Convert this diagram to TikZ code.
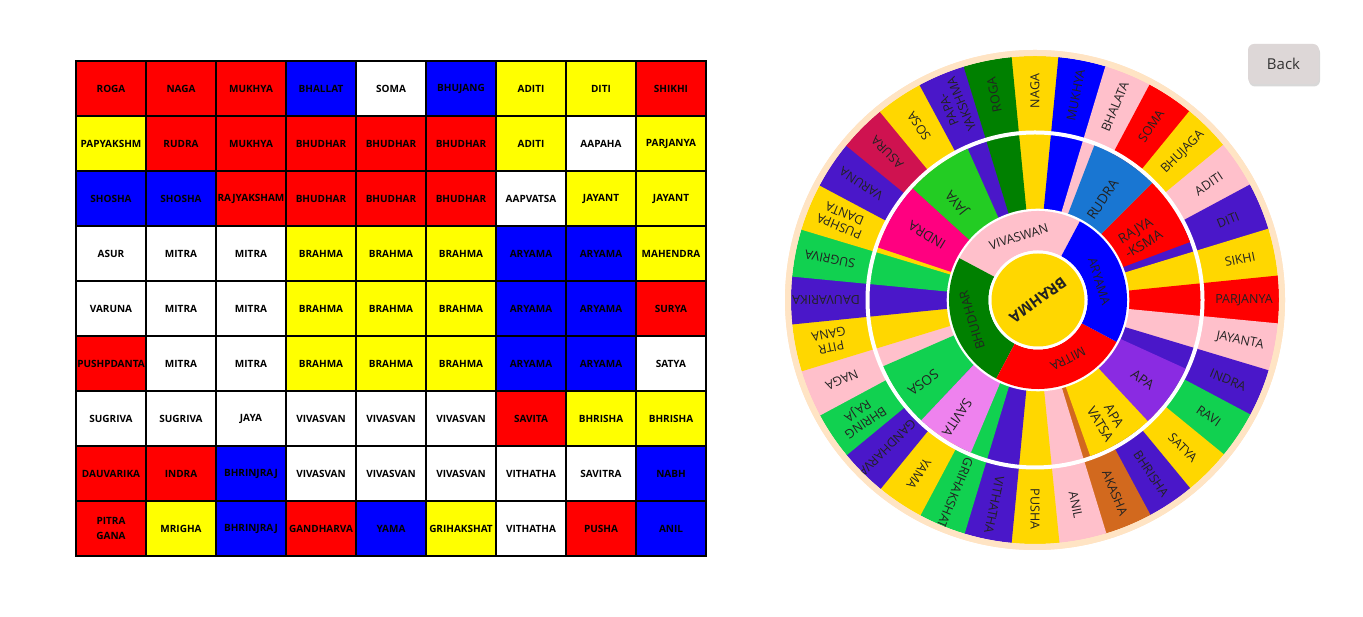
\documentclass[tikz,border=0pt]{standalone}
\usepackage{fontspec}
\setmainfont{Open Sans}
\usetikzlibrary{shadows}
\definecolor{gyellow}{RGB}{255,255,0}
\definecolor{gred}{RGB}{255,0,0}
\definecolor{gblue}{RGB}{0,0,255}
\definecolor{wgold}{RGB}{255,215,0}
\definecolor{wblue}{RGB}{0,0,255}
\definecolor{wpink}{RGB}{255,192,203}
\definecolor{wred}{RGB}{255,0,0}
\definecolor{wpurple}{RGB}{74,23,201}
\definecolor{wgreen}{RGB}{17,209,80}
\definecolor{wdkgreen}{RGB}{0,128,0}
\definecolor{wcrimson}{RGB}{207,18,80}
\definecolor{wbrown}{RGB}{210,105,30}
\definecolor{wrudra}{RGB}{25,118,210}
\definecolor{windra}{RGB}{255,0,128}
\definecolor{wjaya}{RGB}{35,204,35}
\definecolor{wapa}{RGB}{138,43,226}
\definecolor{wsavita}{RGB}{238,130,238}
\definecolor{wpeach}{RGB}{255,228,196}
\definecolor{wtxt}{RGB}{34,34,34}
\definecolor{btnfill}{RGB}{221,215,215}
\definecolor{btntxt}{RGB}{51,51,51}
\tikzset{
 gridcell/.style={draw=black, line width=1.6pt, minimum width=70pt, minimum height=55pt, inner sep=0pt, font=\fontsize{10}{15}\selectfont\bfseries, align=center, text=black},
 outerlab/.style={font=\fontsize{12.5}{14}\selectfont, text=wtxt, inner sep=0pt, align=center},
 midlab/.style={font=\fontsize{13.5}{16}\selectfont, text=wtxt, inner sep=0pt, align=center},
 innerlab/.style={font=\fontsize{12.5}{14}\selectfont, text=wtxt, inner sep=0pt},
 brahmalab/.style={font=\fontsize{15}{17}\selectfont\bfseries, text=wtxt, inner sep=0pt},
 backbtn/.style={fill=btnfill, rounded corners=6pt, minimum width=71pt, minimum height=40pt, inner sep=0pt, drop shadow={shadow xshift=1pt, shadow yshift=-2.5pt, opacity=0.3}, font=\fontsize{15}{18}\selectfont, text=btntxt},
}
\begin{document}
\begin{tikzpicture}[x=1pt,y=1pt]
\useasboundingbox (0,0) rectangle (1363,617);
\fill[white] (0,0) rectangle (1363,617);
% ---------------- grid ----------------
\foreach[count=\cc] \col/\tx in {gred/ROGA,gred/NAGA,gred/MUKHYA,gblue/BHALLAT,white/SOMA,gblue/BHUJANG,gyellow/ADITI,gyellow/DITI,gred/SHIKHI}
 {\node[gridcell,fill=\col] (ga\cc) at ({41+70*\cc},528.5) {\tx};}
\foreach[count=\cc] \col/\tx in {gyellow/PAPYAKSHM,gred/RUDRA,gred/MUKHYA,gred/BHUDHAR,gred/BHUDHAR,gred/BHUDHAR,gyellow/ADITI,white/AAPAHA,gyellow/PARJANYA}
 {\node[gridcell,fill=\col] (gb\cc) at ({41+70*\cc},473.5) {\tx};}
\foreach[count=\cc] \col/\tx in {gblue/SHOSHA,gblue/SHOSHA,gred/RAJYAKSHAM,gred/BHUDHAR,gred/BHUDHAR,gred/BHUDHAR,white/AAPVATSA,gyellow/JAYANT,gyellow/JAYANT}
 {\node[gridcell,fill=\col] (gc\cc) at ({41+70*\cc},418.5) {\tx};}
\foreach[count=\cc] \col/\tx in {white/ASUR,white/MITRA,white/MITRA,gyellow/BRAHMA,gyellow/BRAHMA,gyellow/BRAHMA,gblue/ARYAMA,gblue/ARYAMA,gyellow/MAHENDRA}
 {\node[gridcell,fill=\col] (gd\cc) at ({41+70*\cc},363.5) {\tx};}
\foreach[count=\cc] \col/\tx in {white/VARUNA,white/MITRA,white/MITRA,gyellow/BRAHMA,gyellow/BRAHMA,gyellow/BRAHMA,gblue/ARYAMA,gblue/ARYAMA,gred/SURYA}
 {\node[gridcell,fill=\col] (ge\cc) at ({41+70*\cc},308.5) {\tx};}
\foreach[count=\cc] \col/\tx in {gred/PUSHPDANTA,white/MITRA,white/MITRA,gyellow/BRAHMA,gyellow/BRAHMA,gyellow/BRAHMA,gblue/ARYAMA,gblue/ARYAMA,white/SATYA}
 {\node[gridcell,fill=\col] (gf\cc) at ({41+70*\cc},253.5) {\tx};}
\foreach[count=\cc] \col/\tx in {white/SUGRIVA,white/SUGRIVA,white/JAYA,white/VIVASVAN,white/VIVASVAN,white/VIVASVAN,gred/SAVITA,gyellow/BHRISHA,gyellow/BHRISHA}
 {\node[gridcell,fill=\col] (gg\cc) at ({41+70*\cc},198.5) {\tx};}
\foreach[count=\cc] \col/\tx in {gred/DAUVARIKA,gred/INDRA,gblue/BHRINJRAJ,white/VIVASVAN,white/VIVASVAN,white/VIVASVAN,white/VITHATHA,white/SAVITRA,gblue/NABH}
 {\node[gridcell,fill=\col] (gh\cc) at ({41+70*\cc},143.5) {\tx};}
\foreach[count=\cc] \col/\tx in {gred/{PITRA\\GANA},gyellow/MRIGHA,gblue/BHRINJRAJ,gred/GANDHARVA,gblue/YAMA,gyellow/GRIHAKSHAT,white/VITHATHA,gred/PUSHA,gblue/ANIL}
 {\node[gridcell,fill=\col] (gi\cc) at ({41+70*\cc},88.5) {\tx};}
% ---------------- wheel ----------------
\begin{scope}[shift={(1035,317)}]
 \fill[wpeach] (0,0) circle[radius=250pt];
 \foreach \kk/\col in {0/wgold,1/wblue,2/wpink,3/wred,4/wgold,5/wpink,6/wpurple,7/wgold,8/wred,9/wpink,10/wpurple,11/wgreen,12/wgold,13/wpurple,14/wbrown,15/wpink,16/wgold,17/wpurple,18/wgreen,19/wgold,20/wpurple,21/wgreen,22/wpink,23/wgold,24/wpurple,25/wgreen,26/wgold,27/wpurple,28/wcrimson,29/wgold,30/wpurple,31/wdkgreen}
 {
  \pgfmathsetmacro\angA{90-11.25*\kk-5.75}
  \pgfmathsetmacro\angB{90-11.25*\kk+5.75}
  \fill[\col] (\angA:85pt) arc[start angle=\angA,end angle=\angB,radius=85pt] -- (\angB:244pt) arc[start angle=\angB,end angle=\angA,radius=244pt] -- cycle;
 }
 \draw[white, line width=4pt] (0,0) circle[radius=167.5pt];
 % inner devas (middle ring)
 \foreach \angA/\angB/\col in {114/137.7/wjaya,137.7/161.5/windra,203.6/226.6/wgreen,226.6/247.2/wsavita,289.5/313/wgold,313/335.5/wapa,20.5/45/wred,45/69/wrudra}
 {
  \fill[\col] (\angA:85pt) arc[start angle=\angA,end angle=\angB,radius=85pt] -- (\angB:165.5pt) arc[start angle=\angB,end angle=\angA,radius=165.5pt] -- cycle;
 }
 % outer labels
 \foreach \kk/\tx in {0/NAGA,1/MUKHYA,2/BHALATA,3/SOMA,4/BHUJAGA,5/ADITI,6/DITI,7/SIKHI,8/PARJANYA,9/JAYANTA,10/INDRA,11/RAVI,12/SATYA,13/BHRISHA,14/AKASHA,15/ANIL,16/PUSHA,17/VITHATHA,18/GRIHAKSHAT,19/YAMA,20/GANDHARVA,21/{BHRING\\RAJA},22/NAGA,23/{PITR\\GANA},24/DAUVARIKA,25/SUGRIVA,26/{PUSHPA\\DANTA},27/VARUNA,28/ASURA,29/SOSA,30/{PAPA-\\YAKSHMA},31/ROGA}
 {
  \pgfmathsetmacro\angM{90-11.25*\kk}
  \node[outerlab, rotate=\angM] (o\kk) at (\angM:209pt) {\tx};
 }
 \draw[wpeach, line width=6pt] (0,0) circle[radius=247pt];
 % middle labels
 \foreach \nm/\angM/\rr/\tx in {m1/56/121/RUDRA,m2/31/122/{RAJYA\\-KSMA},m3/-36.5/134/APA,m4/-59/140/{APA\\VATSA},m5/-123.5/141/SAVITA,m6/-143.5/139/SOSA,m7/149/126/INDRA,m8/128.5/125/JAYA}
 {
  \node[midlab, rotate=\angM] (\nm) at (\angM:\rr pt) {\tx};
 }
\end{scope}
\begin{scope}[shift={(1038,317)}]
 \fill[white] (0,0) circle[radius=91.3pt];
 \foreach \angA/\angB/\col in {62/152/wpink,152/242/wdkgreen,242/332/wred,332/422/wblue}
 {
  \fill[\col] (\angA:49.5pt) arc[start angle=\angA,end angle=\angB,radius=49.5pt] -- (\angB:89pt) arc[start angle=\angB,end angle=\angA,radius=89pt] -- cycle;
 }
 \fill[white] (0,0) circle[radius=49.5pt];
 \fill[wgold] (0,0) circle[radius=46.5pt];
 \foreach \nm/\angM/\rr/\tx in {i1/107/66/VIVASWAN,i2/17/64/ARYAMA,i3/-63/66/MITRA,i4/197/69/BHUDHAR}
 {
  \pgfmathsetmacro\rot{\angM-90}
  \node[innerlab, rotate=\rot] (\nm) at (\angM:\rr pt) {\tx};
 }
 \node[brahmalab, rotate=-144] (brahma) at (0,0) {BRAHMA};
\end{scope}
% ---------------- back button ----------------
\node[backbtn] (back) at (1283.5,553) {Back};
\end{tikzpicture}
\end{document}
